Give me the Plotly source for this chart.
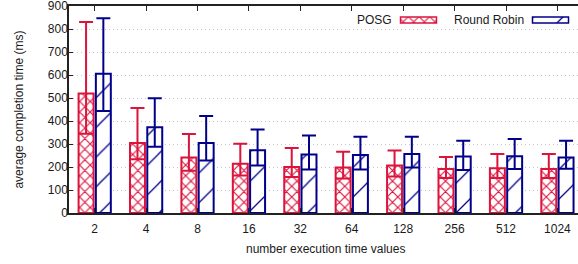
import plotly.graph_objects as go

categories = ["2", "4", "8", "16", "32", "64", "128", "256", "512", "1024"]

posg_mean = [520, 304, 241, 214, 200, 198, 207, 191, 195, 191]
posg_low = [345, 234, 184, 163, 156, 150, 159, 152, 152, 152]
posg_high = [830, 456, 344, 301, 283, 266, 272, 244, 257, 257]

rr_mean = [605, 373, 304, 273, 254, 252, 257, 246, 247, 241]
rr_low = [444, 288, 228, 207, 189, 189, 198, 187, 191, 192]
rr_high = [847, 499, 422, 363, 337, 332, 331, 314, 322, 314]

y_ticks = [0, 100, 200, 300, 400, 500, 600, 700, 800, 900]

RED = "#DC143C"
BLUE = "#00008B"
FONT = "Liberation Sans, Arial, sans-serif"
TXT = "#1a1a1a"

X_PAT = dict(shape="x", fgcolor=RED, bgcolor="white", size=7.5, solidity=0.28, fgopacity=1)
S_PAT = dict(shape="/", fgcolor=BLUE, bgcolor="white", size=21, solidity=0.06, fgopacity=1)


def err(mean, low, high, color):
    return dict(
        type="data",
        symmetric=False,
        array=[h - m for h, m in zip(high, mean)],
        arrayminus=[m - l for m, l in zip(mean, low)],
        color=color,
        thickness=2,
        width=7,
    )


fig = go.Figure()
fig.add_trace(go.Bar(
    x=categories, y=posg_mean, name="POSG",
    marker=dict(color="white", line=dict(color=RED, width=2), pattern=X_PAT),
    error_y=err(posg_mean, posg_low, posg_high, RED),
    showlegend=False,
))
fig.add_trace(go.Bar(
    x=categories, y=rr_mean, name="Round Robin",
    marker=dict(color="white", line=dict(color=BLUE, width=2), pattern=S_PAT),
    error_y=err(rr_mean, rr_low, rr_high, BLUE),
    showlegend=False,
))

# custom legend samples (pixel-unit overlay axes)
fig.add_trace(go.Bar(
    x=[418.5], y=[6], base=[17], width=[36], offset=-18, xaxis="x2", yaxis="y2",
    marker=dict(color="white", line=dict(color=RED, width=1.5), pattern=X_PAT),
    showlegend=False, hoverinfo="skip",
))
fig.add_trace(go.Bar(
    x=[550.5], y=[6], base=[17], width=[36], offset=-18, xaxis="x2", yaxis="y2",
    marker=dict(color="white", line=dict(color=BLUE, width=1.5), pattern=S_PAT),
    showlegend=False, hoverinfo="skip",
))

fig.update_layout(
    width=578, height=264,
    margin=dict(l=69, r=0, t=6, b=51),
    paper_bgcolor="white", plot_bgcolor="white",
    barmode="group", bargap=0.328, bargroupgap=0.134,
    font=dict(family=FONT, size=12, color=TXT),
    xaxis=dict(
        type="category", range=[-0.5, 9.4],
        showline=True, linecolor="#222", linewidth=1.5, mirror="ticks",
        ticks="inside", ticklen=5, tickcolor="#222",
        showgrid=False, ticklabelstandoff=4,
    ),
    yaxis=dict(
        range=[0, 900], tickvals=y_ticks,
        showline=True, linecolor="#222", linewidth=1.5, mirror=False,
        ticks="inside", ticklen=4, tickcolor="#222",
        showgrid=True, gridcolor="#c4c4c4", griddash="1px,3px", gridwidth=1,
        zeroline=False, ticklabeloverflow="allow", ticklabelstandoff=-3,
    ),
    xaxis2=dict(overlaying="x", anchor="y2", range=[69, 578], visible=False, fixedrange=True),
    yaxis2=dict(overlaying="y", anchor="x2", range=[213, 6], visible=False, fixedrange=True),
    annotations=[
        dict(text="POSG", x=394, y=20, xref="x2", yref="y2", xanchor="right", yanchor="middle",
             showarrow=False, font=dict(size=12, color=TXT)),
        dict(text="Round Robin", x=526, y=20, xref="x2", yref="y2", xanchor="right", yanchor="middle",
             showarrow=False, font=dict(size=12, color=TXT)),
        dict(text="number execution time values", x=0.503, y=-0.174, xref="paper", yref="paper",
             xanchor="center", yanchor="middle", showarrow=False, font=dict(size=12, color=TXT)),
        dict(text="average completion time (ms)", x=-0.1, y=0.5, xref="paper", yref="paper",
             xanchor="center", yanchor="middle", textangle=-90, showarrow=False,
             font=dict(size=12, color=TXT)),
    ],
)

fig.write_html(
    "out.html",
    config={"displayModeBar": False},
    post_script="document.body.style.margin='0';document.body.style.overflow='hidden';",
)
